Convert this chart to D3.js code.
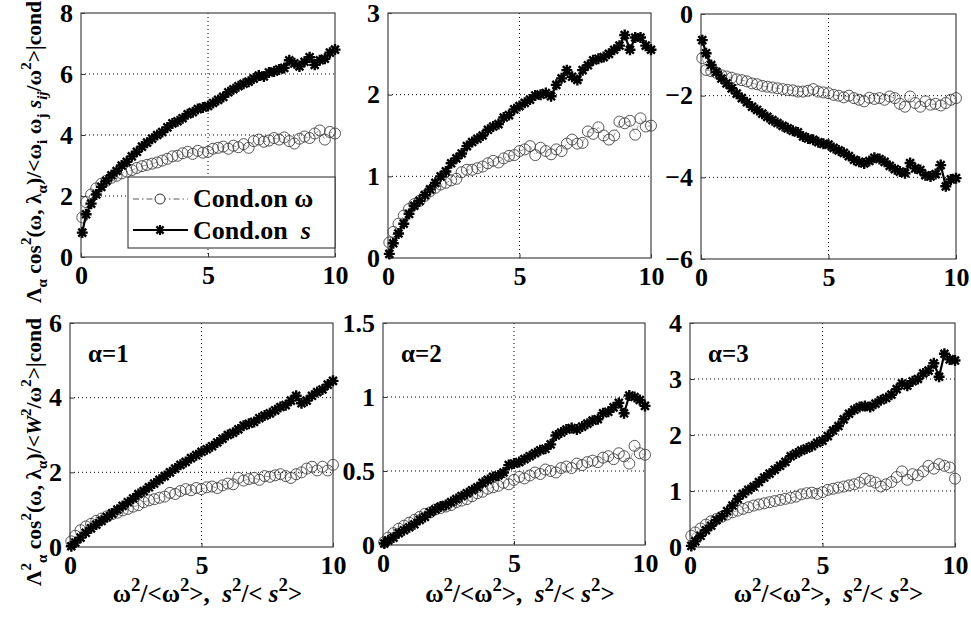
<!DOCTYPE html>
<html><head><meta charset="utf-8">
<script src="https://cdn.jsdelivr.net/npm/d3@7"></script>
<style>body{margin:0;background:#fff}svg{display:block}</style>
</head><body><svg id="c" width="971" height="620"></svg>
<script>
// ---------- data ----------
const xs = [0.05,0.2,0.4,0.6,0.8,1.0,1.2,1.4,1.6,1.8,2.0,2.2,2.4,2.6,2.8,3.0,3.2,3.4,3.6,3.8,4.0,4.2,4.4,4.6,4.8,5.0,5.2,5.4,5.6,5.8,6.0,6.2,6.4,6.6,6.8,7.0,7.2,7.4,7.6,7.8,8.0,8.2,8.4,8.6,8.8,9.0,9.2,9.4,9.6,9.8,10.0];
const xTicks = [0,5,10];
const xTickLabels = ["0","5","10"];

const p1Star = [0.80,1.40,1.75,2.05,2.30,2.50,2.68,2.82,3.00,3.12,3.30,3.45,3.62,3.75,3.88,4.00,4.10,4.25,4.38,4.45,4.55,4.68,4.75,4.85,4.90,4.95,5.05,5.15,5.25,5.40,5.50,5.60,5.68,5.75,5.85,5.95,5.92,6.05,6.08,6.15,6.20,6.45,6.35,6.25,6.40,6.55,6.30,6.45,6.50,6.70,6.80];
const p1Circ = [1.30,1.80,2.05,2.25,2.40,2.50,2.60,2.66,2.74,2.80,2.85,2.92,2.98,3.02,3.06,3.10,3.16,3.22,3.30,3.32,3.40,3.45,3.38,3.48,3.42,3.45,3.55,3.58,3.62,3.55,3.65,3.60,3.70,3.58,3.80,3.85,3.78,3.82,3.90,3.85,3.92,3.80,3.72,3.88,3.95,3.90,4.05,4.15,3.85,4.10,4.05];
const p2Star = [0.05,0.18,0.30,0.42,0.54,0.64,0.70,0.77,0.84,0.92,1.00,1.06,1.16,1.22,1.28,1.37,1.42,1.46,1.50,1.57,1.61,1.64,1.72,1.75,1.82,1.86,1.90,1.94,1.99,2.00,2.02,1.98,2.12,2.20,2.30,2.22,2.18,2.30,2.36,2.42,2.44,2.46,2.50,2.55,2.60,2.73,2.55,2.70,2.70,2.60,2.55];
const p2Circ = [0.19,0.32,0.42,0.52,0.60,0.66,0.70,0.76,0.82,0.86,0.90,0.92,0.95,0.97,1.05,1.08,1.08,1.10,1.12,1.16,1.19,1.17,1.22,1.25,1.26,1.31,1.33,1.37,1.26,1.35,1.31,1.27,1.33,1.31,1.40,1.45,1.40,1.41,1.55,1.52,1.60,1.50,1.45,1.50,1.67,1.65,1.68,1.51,1.71,1.61,1.62];
const p3Star = [-0.64,-0.96,-1.25,-1.42,-1.58,-1.70,-1.82,-1.95,-2.06,-2.16,-2.27,-2.35,-2.44,-2.52,-2.60,-2.67,-2.74,-2.80,-2.86,-2.90,-3.00,-3.05,-3.08,-3.14,-3.18,-3.20,-3.28,-3.34,-3.40,-3.48,-3.57,-3.62,-3.66,-3.60,-3.52,-3.55,-3.62,-3.72,-3.80,-3.86,-3.90,-3.65,-3.78,-3.82,-3.95,-3.98,-3.92,-3.70,-4.22,-4.05,-4.02];
const p3Circ = [-1.08,-1.37,-1.40,-1.44,-1.50,-1.53,-1.56,-1.60,-1.62,-1.65,-1.70,-1.72,-1.76,-1.78,-1.80,-1.82,-1.84,-1.86,-1.87,-1.90,-1.90,-1.88,-1.84,-1.90,-1.92,-1.94,-1.98,-2.00,-2.04,-2.00,-2.06,-2.10,-2.14,-2.05,-2.08,-2.06,-2.10,-2.02,-2.06,-2.20,-2.27,-2.02,-2.18,-2.27,-2.14,-2.22,-2.20,-2.24,-2.18,-2.10,-2.06];
const p4Star = [0.02,0.12,0.25,0.38,0.50,0.60,0.70,0.80,0.90,1.00,1.10,1.20,1.30,1.42,1.50,1.60,1.70,1.80,1.90,2.00,2.10,2.20,2.28,2.38,2.46,2.55,2.62,2.70,2.80,2.90,3.00,3.06,3.15,3.25,3.30,3.35,3.45,3.52,3.58,3.66,3.75,3.80,3.92,4.05,3.85,3.92,4.05,4.15,4.22,4.35,4.45];
const p4Circ = [0.15,0.30,0.45,0.55,0.62,0.70,0.76,0.82,0.88,0.92,0.98,1.02,1.08,1.12,1.20,1.25,1.28,1.32,1.35,1.45,1.42,1.50,1.55,1.52,1.58,1.55,1.60,1.62,1.58,1.65,1.70,1.68,1.85,1.78,1.82,1.85,1.80,1.90,1.88,1.92,1.95,1.90,1.85,1.95,2.00,2.10,2.15,2.05,2.15,2.05,2.20];
const p5Star = [0.01,0.03,0.05,0.08,0.10,0.12,0.14,0.17,0.19,0.22,0.24,0.26,0.27,0.29,0.31,0.33,0.35,0.37,0.39,0.42,0.44,0.46,0.47,0.49,0.54,0.55,0.56,0.58,0.60,0.62,0.64,0.65,0.68,0.74,0.76,0.78,0.79,0.78,0.80,0.82,0.84,0.85,0.89,0.90,0.93,0.96,0.89,1.01,1.00,0.98,0.94];
const p5Circ = [0.02,0.05,0.08,0.11,0.13,0.15,0.17,0.19,0.21,0.22,0.24,0.25,0.26,0.27,0.29,0.30,0.31,0.33,0.35,0.36,0.38,0.39,0.40,0.42,0.41,0.44,0.46,0.45,0.47,0.49,0.48,0.51,0.50,0.49,0.52,0.53,0.52,0.55,0.54,0.56,0.57,0.56,0.59,0.60,0.58,0.62,0.60,0.55,0.67,0.62,0.61];
const p6Star = [0.02,0.10,0.20,0.30,0.38,0.48,0.55,0.64,0.74,0.86,0.95,1.02,1.08,1.16,1.24,1.31,1.38,1.45,1.52,1.62,1.67,1.72,1.76,1.80,1.86,1.90,1.98,2.08,2.16,2.28,2.38,2.45,2.50,2.52,2.50,2.56,2.62,2.66,2.72,2.82,2.92,2.88,2.96,3.00,3.10,3.15,3.28,3.04,3.45,3.35,3.33];
const p6Circ = [0.20,0.26,0.33,0.40,0.46,0.50,0.54,0.58,0.62,0.65,0.68,0.71,0.74,0.76,0.78,0.80,0.82,0.84,0.86,0.88,0.90,0.94,0.96,0.97,0.95,0.98,1.02,1.04,1.06,1.08,1.10,1.12,1.15,1.22,1.18,1.15,1.08,1.12,1.16,1.25,1.35,1.20,1.30,1.28,1.35,1.45,1.40,1.48,1.45,1.42,1.22];

const yTicks1 = [0,2,4,6,8];
const yTicks2 = [0,1,2,3];
const yTicks3 = [-6,-4,-2,0];
const yTicks4 = [0,2,4,6];
const yTicks5 = [0,0.5,1,1.5];
const yTicks6 = [0,1,2,3,4];
const alphaLabels = ["α=1","α=2","α=3"];
const legendLabels = ["Cond.on\u00a0", "Cond.on\u00a0\u00a0"];

// ---------- layout ----------
const FONT = "'Liberation Serif','Times New Roman',serif";
const panels = [
  {box:[81,13,335,257], dom:[0,8],  ticks:yTicks1, star:p1Star, circ:p1Circ},
  {box:[388,13,651,258], dom:[0,3], ticks:yTicks2, star:p2Star, circ:p2Circ},
  {box:[701,14,956,259], dom:[-6,0], ticks:yTicks3, star:p3Star, circ:p3Circ},
  {box:[70,323,333,547], dom:[0,6], ticks:yTicks4, star:p4Star, circ:p4Circ, alpha:0},
  {box:[383,323,645,545], dom:[0,1.5], ticks:yTicks5, star:p5Star, circ:p5Circ, alpha:1},
  {box:[690,323,955,547], dom:[0,4], ticks:yTicks6, star:p6Star, circ:p6Circ, alpha:2}
];

const svg = d3.select("#c");
svg.append("rect").attr("width",971).attr("height",620).attr("fill","#fff");

function starPath(r){
  const a = r*0.72;
  return `M${-r},0L${r},0M0,${-r}L0,${r}M${-a},${-a}L${a},${a}M${-a},${a}L${a},${-a}`;
}

function rich(t, segs, small){
  const fs = small || 0.7;
  let off = 0;
  segs.forEach(([s,k])=>{
    const ts = t.append("tspan").text(s);
    let target = 0;
    const isSmall = (k==="sub"||k==="sup"||k==="itsub");
    if(k==="sub"||k==="itsub") target = 0.3;
    if(k==="sup") target = -0.45;
    if(isSmall) ts.attr("font-size", fs+"em");
    if(k==="it"||k==="itsub") ts.attr("font-style","italic");
    const f = isSmall ? fs : 1;
    const dyEm = (target - off)/f;
    if(Math.abs(dyEm)>1e-6) ts.attr("dy", dyEm.toFixed(3)+"em");
    off = target;
  });
}

panels.forEach((p,i)=>{
  const [x0,y0,x1,y1] = p.box;
  const x = d3.scaleLinear().domain([0,10]).range([x0,x1]);
  const y = d3.scaleLinear().domain(p.dom).range([y1,y0]);
  const g = svg.append("g");

  // grid
  g.selectAll(".gx").data(xTicks.filter(v=>v>0&&v<10)).join("line")
    .attr("x1",d=>x(d)).attr("x2",d=>x(d)).attr("y1",y0).attr("y2",y1)
    .attr("stroke","#000").attr("stroke-width",1).attr("stroke-dasharray","1,3");
  g.selectAll(".gy").data(p.ticks.filter(v=>v>p.dom[0]&&v<p.dom[1])).join("line")
    .attr("y1",d=>y(d)).attr("y2",d=>y(d)).attr("x1",x0).attr("x2",x1)
    .attr("stroke","#000").attr("stroke-width",1).attr("stroke-dasharray","1,3");

  // axes
  const ax = g.append("g").attr("transform",`translate(0,${y1})`)
    .call(d3.axisBottom(x).tickValues(xTicks).tickFormat((d,j)=>xTickLabels[j]).tickSize(-4).tickPadding(9));
  const ay = g.append("g").attr("transform",`translate(${x0},0)`)
    .call(d3.axisLeft(y).tickValues(p.ticks).tickFormat(d3.format("~g")).tickSize(-4).tickPadding(8));
  [ax,ay].forEach(a=>{
    a.select(".domain").remove();
    a.selectAll("line").attr("stroke","#333");
    a.selectAll("text").attr("font-family",FONT).attr("font-weight","bold").attr("font-size",26).attr("fill","#000");
  });

  // frame
  g.append("rect").attr("x",x0).attr("y",y0).attr("width",x1-x0).attr("height",y1-y0)
    .attr("fill","none").attr("stroke","#444").attr("stroke-width",1.2);

  const lineC = d3.line().x((d,j)=>x(xs[j])).y(d=>y(d));
  // circle series
  g.append("path").attr("d",lineC(p.circ)).attr("fill","none")
    .attr("stroke","#777").attr("stroke-width",0.7).attr("stroke-dasharray","5,3,1,3");
  g.selectAll(".c").data(p.circ).join("circle")
    .attr("cx",(d,j)=>x(xs[j])).attr("cy",d=>y(d)).attr("r",5.5)
    .attr("fill","none").attr("stroke","#444").attr("stroke-width",0.9);
  // star series
  g.append("path").attr("d",lineC(p.star)).attr("fill","none")
    .attr("stroke","#000").attr("stroke-width",2.2);
  g.selectAll(".s").data(p.star).join("path")
    .attr("transform",(d,j)=>`translate(${x(xs[j])},${y(d)})`)
    .attr("d",starPath(5.5)).attr("stroke","#000").attr("stroke-width",2.4).attr("fill","none");

  if(p.alpha!==undefined){
    g.append("text").attr("x",x0+18).attr("y",y0+39).text(alphaLabels[p.alpha])
      .attr("font-family",FONT).attr("font-weight","bold").attr("font-size",25);
    const t = g.append("text").attr("x",(x0+x1)/2+6).attr("y",602).attr("text-anchor","middle")
      .attr("font-family",FONT).attr("font-weight","bold").attr("font-size",25);
    rich(t,[["ω","n"],["2","sup"],["/<ω","n"],["2","sup"],[">,\u00a0\u00a0","n"],["s","it"],["2","sup"],["/<\u00a0","n"],["s","it"],["2","sup"],[">","n"]], 0.75);
  }
});

// legend in panel 1
(function(){
  const lg = svg.append("g");
  lg.append("rect").attr("x",128).attr("y",177).attr("width",207).attr("height",71)
    .attr("fill","#fff").attr("stroke","#222").attr("stroke-width",1);
  lg.append("line").attr("x1",133).attr("x2",188).attr("y1",199).attr("y2",199)
    .attr("stroke","#444").attr("stroke-width",0.9).attr("stroke-dasharray","6,3,1.5,3");
  lg.append("circle").attr("cx",160).attr("cy",199).attr("r",5).attr("fill","#fff").attr("stroke","#333");
  lg.append("line").attr("x1",133).attr("x2",188).attr("y1",230).attr("y2",230)
    .attr("stroke","#000").attr("stroke-width",2);
  lg.append("path").attr("transform","translate(160,230)").attr("d",starPath(5))
    .attr("stroke","#000").attr("stroke-width",2.2);
  const t1 = lg.append("text").attr("x",193).attr("y",207).attr("font-family",FONT).attr("font-weight","bold").attr("font-size",26);
  rich(t1,[[legendLabels[0],"n"],["ω","n"]]);
  const t2 = lg.append("text").attr("x",193).attr("y",239).attr("font-family",FONT).attr("font-weight","bold").attr("font-size",26);
  rich(t2,[[legendLabels[1],"n"],["s","it"]]);
})();

// y titles
const yt1 = svg.append("text").attr("transform","translate(41,152) rotate(-90)").attr("text-anchor","middle")
  .attr("font-family",FONT).attr("font-weight","bold").attr("font-size",21.5);
rich(yt1,[["Λ","n"],["α","sub"],[" cos","n"],["2","sup"],["(ω, λ","n"],["α","sub"],[")/<ω","n"],["i","sub"],[" ω","n"],["j","sub"],[" ","n"],["s","it"],["ij","itsub"],["/ω","n"],["2","sup"],[">|cond","n"]]);
const yt2 = svg.append("text").attr("transform","translate(41,452) rotate(-90)").attr("text-anchor","middle")
  .attr("font-family",FONT).attr("font-weight","bold").attr("font-size",21.5);
rich(yt2,[["Λ","n"],["2","sup"],["α","sub"],[" cos","n"],["2","sup"],["(ω, λ","n"],["α","sub"],[")/<","n"],["W","it"],["2","sup"],["/ω","n"],["2","sup"],[">|cond","n"]]);
</script>
</body></html>
